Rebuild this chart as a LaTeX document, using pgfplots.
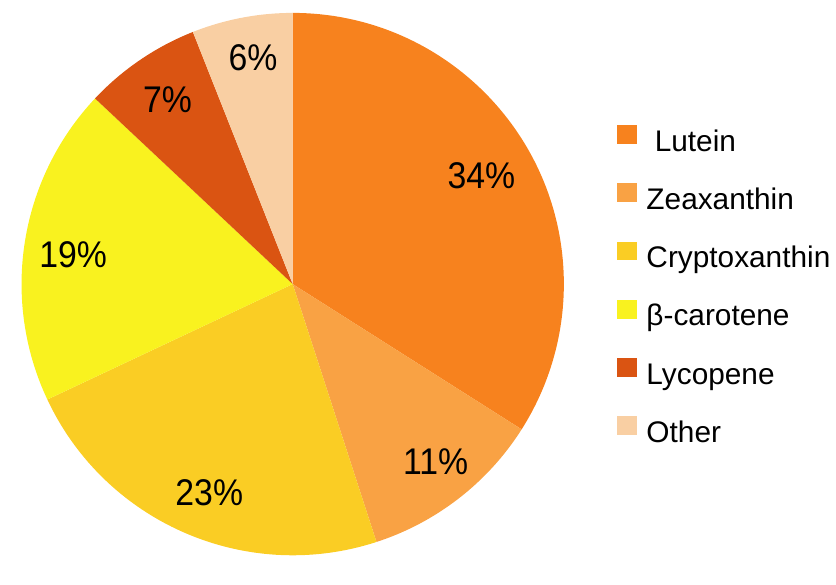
\documentclass[border=0pt]{standalone}
\usepackage{pgfplots}
\usepackage{pgfplotstable}
\pgfplotsset{compat=1.18}
\usepackage{fontspec}
\setmainfont{Liberation Sans}

\definecolor{cLutein}{HTML}{F7821E}
\definecolor{cZea}{HTML}{F9A244}
\definecolor{cCrypto}{HTML}{FACD24}
\definecolor{cBeta}{HTML}{F9F21F}
\definecolor{cLyco}{HTML}{DA5412}
\definecolor{cOther}{HTML}{F9CFA3}

% share of each carotenoid, clockwise from 12 o'clock; lx ly = label position
\pgfplotstableread{
name value col lx ly
Lutein 34 cLutein 479 386
Zeaxanthin 11 cZea 433 98
Cryptoxanthin 23 cCrypto 205 67
beta 19 cBeta 68 307
Lycopene 7 cLyco 163 463
Other 6 cOther 249 505
}\piedata

\tikzset{pielabel/.style={font=\fontsize{34}{40}\selectfont, inner sep=0pt, yscale=1.1, transform shape}}
\pgfplotsset{pielegend/.style={legend image code/.code={\fill[##1, draw=none] (0pt,0pt) rectangle (20pt,19pt);}}}

\begin{document}
\begin{tikzpicture}
\begin{axis}[
    scale only axis,
    width=836pt, height=563pt,
    xmin=0, xmax=836, ymin=0, ymax=563,
    axis lines=none,
    clip=false,
    legend cell align=left,
    legend style={draw=none, fill=none, inner sep=0pt,
        at={(axis cs:615,437)}, anchor=north west,
        font=\fontsize{30}{36}\selectfont,
        row sep=25pt,
        nodes={inner sep=0pt, text height=22pt, text depth=7pt},
        /tikz/every odd column/.append style={column sep=10pt}},
]
\path (axis cs:0,0) rectangle (axis cs:836,563);
\def\cum{0}
\pgfplotsforeachungrouped \i in {0,...,5}{%
    \pgfplotstablegetelem{\i}{value}\of\piedata \let\val\pgfplotsretval
    \pgfplotstablegetelem{\i}{col}\of\piedata \let\col\pgfplotsretval
    \pgfplotstablegetelem{\i}{lx}\of\piedata \let\lx\pgfplotsretval
    \pgfplotstablegetelem{\i}{ly}\of\piedata \let\ly\pgfplotsretval
    \pgfmathsetmacro\sa{90-3.6*\cum}
    \pgfmathsetmacro\ea{90-3.6*(\cum+\val)}
    \edef\tmp{%
        \noexpand\fill[\col] (axis cs:289,277) -- ++(\sa:273pt)
            arc[start angle=\sa, end angle=\ea, radius=273pt] -- cycle;
        \noexpand\node[pielabel] at (axis cs:\lx,\ly) {\val\noexpand\%};
    }\tmp
    \pgfmathsetmacro\cum{\cum+\val}
}
\addlegendimage{pielegend, fill=cLutein}
\addlegendentry{\ Lutein}
\addlegendimage{pielegend, fill=cZea}
\addlegendentry{Zeaxanthin}
\addlegendimage{pielegend, fill=cCrypto}
\addlegendentry{Cryptoxanthin}
\addlegendimage{pielegend, fill=cBeta}
\addlegendentry{β-carotene}
\addlegendimage{pielegend, fill=cLyco}
\addlegendentry{Lycopene}
\addlegendimage{pielegend, fill=cOther}
\addlegendentry{Other}
\end{axis}
\end{tikzpicture}
\end{document}
